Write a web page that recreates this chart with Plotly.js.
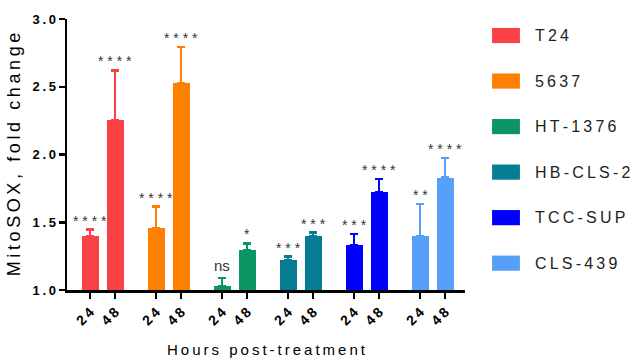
<!DOCTYPE html>
<html><head><meta charset="utf-8">
<script src="https://cdn.plot.ly/plotly-3.0.1.min.js"></script>
<style>html,body{margin:0;padding:0;background:#fff}#chart{width:632px;height:358px}</style>
</head><body><div id="chart"></div>
<script>
const cellLines = ["T24", "5637", "HT-1376", "HB-CLS-2", "TCC-SUP", "CLS-439"];
const hours = ["24", "48"];
const means24 = [1.40, 1.457, 1.03, 1.221, 1.332, 1.40];
const means48 = [2.255, 2.525, 1.295, 1.40, 1.72, 1.83];
const err24 = [0.045, 0.158, 0.06, 0.025, 0.083, 0.235];
const err48 = [0.365, 0.27, 0.05, 0.023, 0.10, 0.145];
const sig24 = ["****", "****", "ns", "***", "***", "**"];
const sig48 = ["****", "****", "*", "***", "****", "****"];
const yTicks = [1.0, 1.5, 2.0, 2.5, 3.0];
const colors = ["#FA4146", "#FF8000", "#0A9563", "#077D93", "#0000FF", "#56A0FA"];

const FONT = "Liberation Sans, Arial, sans-serif";
const GROUP_PITCH = 2.64;
const traces = [];
const annotations = [];
const shapes = [];
const tickvals = [], ticktext = [];
const spaced = (s, sep) => s.split("").join(sep);
function starText(s){ return s === "ns" ? "ns" : s.split("").join(" "); }
cellLines.forEach((name, g) => {
  const xs = [g*GROUP_PITCH, g*GROUP_PITCH + 1];
  const ys = [means24[g], means48[g]];
  const es = [err24[g], err48[g]];
  const sg = [sig24[g], sig48[g]];
  xs.forEach((x,i)=>{ tickvals.push(x); ticktext.push(spaced(hours[i], "\u2009")); });
  traces.push({
    type: "bar", name: name, x: xs, y: ys,
    marker: {color: colors[g], line: {width: 0}},
    width: 0.68, showlegend: false,
    error_y: {type: "data", symmetric: false, array: es, arrayminus: [0,0],
              color: colors[g], thickness: 2.5, width: 4}
  });
  xs.forEach((x,i)=>{
    annotations.push({
      x: x, y: ys[i] + es[i], xref: "x", yref: "y",
      text: starText(sg[i]), showarrow: false, yanchor: "bottom",
      yshift: sg[i] === "ns" ? 2 : -1,
      font: {family: FONT, size: sg[i] === "ns" ? 15 : 14, color: "#333"}
    });
  });
  // custom legend
  const ly = 0.939 - g*0.168;
  shapes.push({type: "rect", xref: "paper", yref: "paper",
    x0: 1.068, x1: 1.138, y0: ly - 0.028, y1: ly + 0.028,
    fillcolor: colors[g], line: {width: 0}});
  annotations.push({xref: "paper", yref: "paper", x: 1.17, y: ly,
    xanchor: "left", yanchor: "middle", showarrow: false,
    text: spaced(name, "\u2009"),
    font: {family: FONT, size: 16, color: "#222"}});
});

const layout = {
  width: 632, height: 358,
  margin: {l: 67, r: 167, t: 19, b: 68},
  paper_bgcolor: "#fff", plot_bgcolor: "#fff",
  font: {family: FONT, color: "#000"},
  bargap: 0,
  xaxis: {
    range: [-0.92, 15.0], tickvals: tickvals, ticktext: ticktext,
    tickangle: -45, ticks: "outside", ticklen: 6, tickwidth: 2.5, tickcolor: "#000",
    showline: true, linewidth: 2.5, linecolor: "#000", showgrid: false, zeroline: false,
    tickfont: {family: FONT, size: 14, color: "#000", weight: "bold"},
    title: {text: spaced("Hours post-treatment", "\u2009"), standoff: 18,
            font: {family: FONT, size: 15, color: "#000"}}
  },
  yaxis: {
    range: [1, 3], tickvals: yTicks,
    ticktext: yTicks.map(v => spaced(v.toFixed(1), "\u2009")),
    ticks: "outside", ticklen: 6, tickwidth: 2.5, tickcolor: "#000",
    showline: true, linewidth: 2.5, linecolor: "#000", showgrid: false, zeroline: false,
    tickfont: {family: FONT, size: 13, color: "#000", weight: "bold"},
    title: {text: spaced("MitoSOX, fold change", "\u2009"), standoff: 8,
            font: {family: FONT, size: 18, color: "#000"}}
  },
  annotations: annotations, shapes: shapes
};
Plotly.newPlot("chart", traces, layout, {displayModeBar: false, staticPlot: true});
</script></body></html>
